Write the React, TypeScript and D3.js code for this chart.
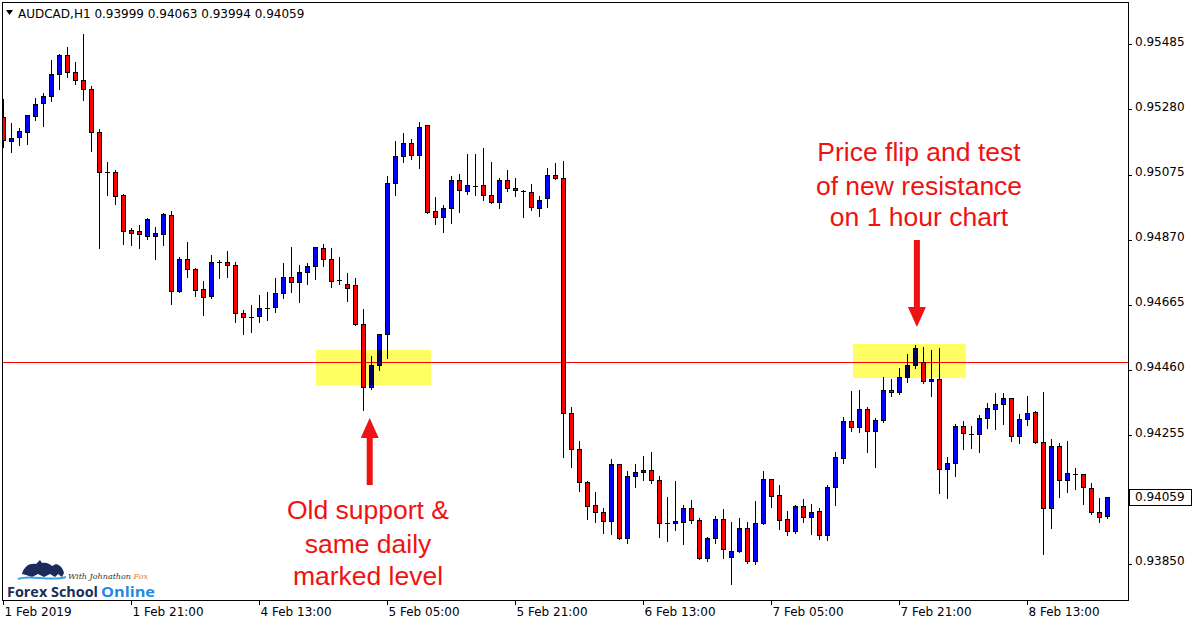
import * as d3 from "d3";

// AUDCAD H1, 1 Feb 2019 05:00 -> 8 Feb 2019 23:00 (one entry per hour bar)
const open = [
  0.95257, 0.95182, 0.95192, 0.9521, 0.9526, 0.95299, 0.95321, 0.95391, 0.9545, 0.95397,
  0.95372, 0.95343, 0.95208, 0.95082, 0.95082, 0.9501, 0.94899, 0.94896, 0.94883, 0.94883,
  0.94889, 0.94947, 0.94709, 0.94808, 0.94777, 0.94714, 0.94692, 0.948, 0.94799, 0.94789,
  0.94638, 0.94627, 0.94629, 0.94656, 0.94657, 0.94701, 0.94752, 0.94736, 0.94767, 0.94786,
  0.94843, 0.94808, 0.94742, 0.9473, 0.94726, 0.94603, 0.94405, 0.94475, 0.94572, 0.95048,
  0.95132, 0.95173, 0.95136, 0.9523, 0.94959, 0.9494, 0.94969, 0.95057, 0.95022, 0.95039,
  0.95041, 0.9501, 0.94988, 0.95057, 0.95032, 0.95024, 0.95019, 0.94969, 0.95, 0.95073,
  0.95063, 0.94323, 0.9421, 0.94106, 0.94035, 0.94012, 0.93984, 0.94163, 0.9393, 0.94125,
  0.94138, 0.94144, 0.94113, 0.93977, 0.93977, 0.93981, 0.94025, 0.93987, 0.93867, 0.9393,
  0.9399, 0.9387, 0.93889, 0.93961, 0.93857, 0.93977, 0.94117, 0.94065, 0.9399, 0.93952,
  0.94031, 0.93996, 0.94015, 0.93939, 0.94091, 0.94182, 0.94298, 0.94279, 0.94336, 0.94267,
  0.94301, 0.94396, 0.9439, 0.94437, 0.94475, 0.94484, 0.94424, 0.94431, 0.94148, 0.94166,
  0.94282, 0.94257, 0.94257, 0.94308, 0.94336, 0.94352, 0.94371, 0.94251, 0.94305, 0.94327,
  0.94232, 0.94025, 0.9422, 0.94113, 0.94132, 0.94131, 0.94087, 0.94012, 0.93999,
];
const high = [
  0.95316, 0.9524, 0.95224, 0.95266, 0.95318, 0.95335, 0.95439, 0.95457, 0.9548, 0.95432,
  0.95521, 0.95356, 0.95221, 0.95118, 0.95092, 0.95016, 0.9491, 0.94919, 0.94942, 0.94913,
  0.94957, 0.94963, 0.94818, 0.94866, 0.94783, 0.94743, 0.94825, 0.94808, 0.94838, 0.94803,
  0.94651, 0.94668, 0.94698, 0.94709, 0.94752, 0.948, 0.9485, 0.94793, 0.94799, 0.94851,
  0.94859, 0.94847, 0.94819, 0.94767, 0.94752, 0.94654, 0.94507, 0.94575, 0.95073, 0.95183,
  0.95208, 0.95189, 0.95244, 0.95234, 0.95007, 0.94981, 0.95073, 0.9508, 0.95143, 0.95143,
  0.95162, 0.95118, 0.95067, 0.95092, 0.95066, 0.95029, 0.95048, 0.9501, 0.95098, 0.95114,
  0.9512, 0.94346, 0.94239, 0.94114, 0.94079, 0.94028, 0.94183, 0.94163, 0.94144, 0.94167,
  0.94192, 0.94205, 0.94128, 0.94062, 0.94112, 0.94038, 0.94054, 0.93996, 0.93936, 0.94002,
  0.94024, 0.93984, 0.93996, 0.93984, 0.94051, 0.94144, 0.94117, 0.941, 0.94018, 0.94037,
  0.94056, 0.9404, 0.94028, 0.941, 0.94204, 0.94314, 0.94396, 0.94399, 0.94345, 0.94311,
  0.9444, 0.94434, 0.94468, 0.94512, 0.94542, 0.94534, 0.94525, 0.94531, 0.94188, 0.94292,
  0.94301, 0.94286, 0.94321, 0.94358, 0.9439, 0.9439, 0.94374, 0.94323, 0.9438, 0.94333,
  0.94393, 0.94245, 0.94232, 0.94238, 0.94154, 0.94131, 0.94106, 0.94059, 0.94063,
];
const low = [
  0.95163, 0.95147, 0.95168, 0.95171, 0.95247, 0.95228, 0.95308, 0.95344, 0.95383, 0.9536,
  0.9531, 0.9515, 0.94845, 0.95012, 0.94982, 0.94856, 0.94853, 0.94845, 0.94873, 0.94809,
  0.94853, 0.94668, 0.94706, 0.94753, 0.94694, 0.94634, 0.94686, 0.9475, 0.94753, 0.94612,
  0.94574, 0.9458, 0.94612, 0.94616, 0.94643, 0.94686, 0.94704, 0.94675, 0.94732, 0.94747,
  0.94788, 0.94722, 0.9473, 0.94678, 0.94602, 0.94334, 0.94401, 0.9446, 0.94498, 0.95012,
  0.95115, 0.95125, 0.95097, 0.94955, 0.9492, 0.94895, 0.94923, 0.94958, 0.95015, 0.95011,
  0.94994, 0.94987, 0.94971, 0.95022, 0.95008, 0.94942, 0.94964, 0.94945, 0.94974, 0.9506,
  0.94187, 0.94155, 0.9408, 0.9399, 0.93981, 0.93946, 0.93944, 0.93929, 0.93916, 0.94091,
  0.94113, 0.94103, 0.93935, 0.93922, 0.93955, 0.93913, 0.93977, 0.93864, 0.93857, 0.93914,
  0.93867, 0.93787, 0.93886, 0.93851, 0.93848, 0.93974, 0.94027, 0.93958, 0.93939, 0.93946,
  0.93981, 0.93944, 0.93927, 0.93924, 0.94034, 0.94166, 0.94267, 0.94264, 0.94201, 0.94154,
  0.94295, 0.94377, 0.94383, 0.94421, 0.94465, 0.94418, 0.94377, 0.94072, 0.94056, 0.94125,
  0.9421, 0.94213, 0.94201, 0.94278, 0.94275, 0.94289, 0.94235, 0.94229, 0.94286, 0.94231,
  0.9388, 0.93962, 0.94059, 0.94075, 0.94084, 0.94037, 0.94006, 0.93981, 0.93994,
];
const close = [
  0.95184, 0.95189, 0.95212, 0.95262, 0.95296, 0.95321, 0.95391, 0.9545, 0.95397, 0.95372,
  0.95343, 0.95208, 0.95082, 0.95082, 0.95008, 0.94898, 0.94892, 0.94887, 0.94934, 0.9489,
  0.9495, 0.94709, 0.94808, 0.94777, 0.94713, 0.94691, 0.94799, 0.948, 0.94789, 0.94638,
  0.94626, 0.94627, 0.94654, 0.94656, 0.94701, 0.94752, 0.94736, 0.94767, 0.94786, 0.94847,
  0.94808, 0.94739, 0.94742, 0.94717, 0.94603, 0.94405, 0.94475, 0.94572, 0.95048, 0.95132,
  0.95173, 0.95136, 0.95224, 0.94956, 0.9494, 0.94969, 0.95057, 0.95026, 0.95041, 0.95039,
  0.9501, 0.94988, 0.95057, 0.95032, 0.95026, 0.95024, 0.94972, 0.94994, 0.95073, 0.95063,
  0.94323, 0.9421, 0.94106, 0.94031, 0.94012, 0.93984, 0.94163, 0.9393, 0.94125, 0.94138,
  0.94144, 0.94113, 0.93977, 0.93977, 0.93985, 0.94025, 0.93987, 0.93867, 0.9393, 0.9399,
  0.93895, 0.93889, 0.93961, 0.93857, 0.93977, 0.94117, 0.94062, 0.93987, 0.93952, 0.94031,
  0.93996, 0.94012, 0.93939, 0.94091, 0.94185, 0.94298, 0.94279, 0.94336, 0.94267, 0.94301,
  0.94396, 0.9439, 0.94437, 0.94475, 0.94528, 0.94424, 0.94431, 0.94148, 0.94166, 0.94282,
  0.9426, 0.94257, 0.94308, 0.94339, 0.94352, 0.94371, 0.94251, 0.94305, 0.94323, 0.94232,
  0.94025, 0.9422, 0.94113, 0.94135, 0.94132, 0.9409, 0.94012, 0.93996, 0.94059,
];

// one label every 16 bars
const timeLabels = [
  "1 Feb 2019", "1 Feb 21:00", "4 Feb 13:00", "5 Feb 05:00", "5 Feb 21:00",
  "6 Feb 13:00", "7 Feb 05:00", "7 Feb 21:00", "8 Feb 13:00",
];
const priceTicks = [0.95485, 0.9528, 0.95075, 0.9487, 0.94665, 0.9446, 0.94255, 0.9405, 0.9385];

const symbol = "AUDCAD,H1";
const lastQuote = [0.93999, 0.94063, 0.93994, 0.94059]; // O H L C
const supportLevel = 0.94484;

// highlighted zones: bar index span and price span
const zoneFrom = [39.1, 106.25];
const zoneTo = [53.4, 120.3];
const zoneTop = [0.94523, 0.94542];
const zoneBottom = [0.94412, 0.94436];

const W = 1200;
const H = 627;
const plot = { left: 2, right: 1128, top: 2, bottom: 600 };
const BULL = "#0000ff";
const BEAR = "#ff0000";
const ANNO = "#f01212";
const FONT = "DejaVu Sans, sans-serif";

const x = d3.scaleLinear().domain([0, 138]).range([3.3, 1107.3]);
const y = d3.scaleLinear().domain([0.956245, 0.937357]).range([0, 600]);

const px = (v: number) => Math.round(v) + 0.5;

function Candles() {
  return (
    <g>
      {open.map((o, i) => {
        const c = close[i];
        const cx = px(x(i));
        const top = px(y(Math.max(o, c)));
        const bot = px(y(Math.min(o, c)));
        const fill = c > o ? BULL : BEAR;
        return (
          <g key={i}>
            <line x1={cx} x2={cx} y1={px(y(high[i]))} y2={px(y(low[i]))} stroke="#000" strokeWidth={1} />
            {bot - top < 1 ? (
              <line x1={cx - 2.5} x2={cx + 2.5} y1={top} y2={top} stroke="#000" strokeWidth={1} />
            ) : (
              <rect x={cx - 2} y={top} width={4} height={bot - top} fill={fill} stroke="#000" strokeWidth={1} />
            )}
          </g>
        );
      })}
    </g>
  );
}

function DownArrow({ cx, y1, y2 }: { cx: number; y1: number; y2: number }) {
  const p = d3.path();
  p.moveTo(cx - 3, y1);
  p.lineTo(cx + 3, y1);
  p.lineTo(cx + 3, y2 - 20);
  p.lineTo(cx + 9, y2 - 20);
  p.lineTo(cx, y2);
  p.lineTo(cx - 9, y2 - 20);
  p.lineTo(cx - 3, y2 - 20);
  p.closePath();
  return <path d={p.toString()} fill={ANNO} />;
}

function UpArrow({ cx, y1, y2 }: { cx: number; y1: number; y2: number }) {
  // y1 tip, y2 tail
  const p = d3.path();
  p.moveTo(cx, y1);
  p.lineTo(cx + 9, y1 + 20);
  p.lineTo(cx + 3, y1 + 20);
  p.lineTo(cx + 3, y2);
  p.lineTo(cx - 3, y2);
  p.lineTo(cx - 3, y1 + 20);
  p.lineTo(cx - 9, y1 + 20);
  p.closePath();
  return <path d={p.toString()} fill={ANNO} />;
}

function Logo() {
  return (
    <g>
      <path
        d="M22,574 C24,566 30,563 36,564 L40,560 L42,563 C46,562 50,564 52,566 L56,564 C60,565 63,568 64,573 L62,577 L58,574 L55,577 L50,574 L44,577 L38,574 L32,577 L26,575 Z"
        fill="#1c2b5a"
      />
      <path d="M18,579 C30,574 50,582 66,577" fill="none" stroke="#3ba3e8" strokeWidth={2} />
      <text x={68} y={579} fontFamily="DejaVu Serif, serif" fontStyle="italic" fontSize={8} fill="#333">
        With Johnathon <tspan fill="#e8812a">Fox</tspan>
      </text>
      <text x={7} y={597} fontFamily="Open Sans, sans-serif" fontWeight={700} fontSize={15} fill="#1b2d5c" textLength={91} lengthAdjust="spacingAndGlyphs">
        Forex School
      </text>
      <text x={101} y={597} fontFamily="Open Sans, sans-serif" fontWeight={700} fontSize={15} fill="#1e8ae6" textLength={54} lengthAdjust="spacingAndGlyphs">
        Online
      </text>
    </g>
  );
}

export default function App() {
  const lastY = px(y(lastQuote[3]));
  return (
    <svg
      width={W}
      height={H}
      style={{ position: "fixed", left: 0, top: 0, background: "#fff" }}
      shapeRendering="crispEdges"
    >
      <defs>
        <clipPath id="plotClip">
          <rect x={plot.left} y={plot.top} width={plot.right - plot.left} height={plot.bottom - plot.top} />
        </clipPath>
      </defs>
      <rect x={0} y={0} width={W} height={H} fill="#fff" />

      <g clipPath="url(#plotClip)">
        <line x1={plot.left} x2={plot.right} y1={px(y(supportLevel))} y2={px(y(supportLevel))} stroke="#ff0000" strokeWidth={1} />
        <Candles />
        {zoneFrom.map((f, k) => (
          <rect
            key={k}
            x={x(f)}
            y={y(zoneTop[k])}
            width={x(zoneTo[k]) - x(f)}
            height={y(zoneBottom[k]) - y(zoneTop[k])}
            fill="#ffff64"
            style={{ mixBlendMode: "multiply" }}
          />
        ))}
      </g>

      {/* frame */}
      <rect
        x={plot.left + 0.5}
        y={plot.top + 0.5}
        width={plot.right - plot.left}
        height={plot.bottom - plot.top}
        fill="none"
        stroke="#000"
      />

      {/* price axis */}
      {priceTicks.map((t) => (
        <g key={t}>
          <line x1={plot.right} x2={plot.right + 4} y1={px(y(t))} y2={px(y(t))} stroke="#000" />
          <text x={1135} y={y(t) - 2} dominantBaseline="middle" fontFamily={FONT} fontSize={12} fill="#000">
            {t.toFixed(5)}
          </text>
        </g>
      ))}
      <rect x={plot.right + 1.5} y={lastY - 8} width={62} height={16} fill="#fff" stroke="#000" />
      <text x={1135} y={lastY} dominantBaseline="middle" fontFamily={FONT} fontSize={12} fill="#000">
        {lastQuote[3].toFixed(5)}
      </text>

      {/* time axis */}
      {timeLabels.map((lab, k) => {
        const tx = px(x(k * 16));
        return (
          <g key={lab}>
            <line x1={tx} x2={tx} y1={plot.bottom} y2={plot.bottom + 5} stroke="#000" />
            <text x={tx + 1} y={616} fontFamily={FONT} fontSize={12} fill="#000">
              {lab}
            </text>
          </g>
        );
      })}

      {/* header */}
      <path d="M6,10 L13,10 L9.5,15 Z" fill="#000" shapeRendering="auto" />
      <text x={18} y={18} fontFamily={FONT} fontSize={12} fill="#000">
        {symbol}  {lastQuote.map((v) => v.toFixed(5)).join(" ")}
      </text>

      {/* annotations */}
      <g shapeRendering="auto">
        <DownArrow cx={x(114.2)} y1={240} y2={327} />
        <UpArrow cx={x(45.8)} y1={418} y2={485} />
        <g fontFamily="Liberation Sans, Arial, sans-serif" fontSize={26.5} fill={ANNO} textAnchor="middle">
          <text x={919} y={161}>Price flip and test</text>
          <text x={919} y={195}>of new resistance</text>
          <text x={919} y={226}>on 1 hour chart</text>
          <text x={368} y={519}>Old support &amp;</text>
          <text x={368} y={553}>same daily</text>
          <text x={368} y={585}>marked level</text>
        </g>
        <Logo />
      </g>
    </svg>
  );
}
